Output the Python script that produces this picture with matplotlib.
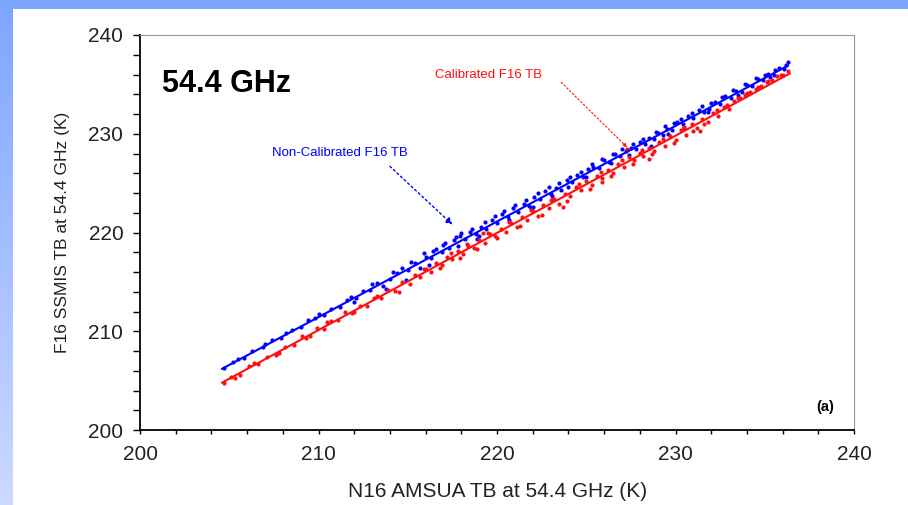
import numpy as np
import matplotlib
matplotlib.use('Agg')
import matplotlib.pyplot as plt
from matplotlib.ticker import MultipleLocator

plt.rcParams['font.family'] = ['Liberation Sans', 'DejaVu Sans']

# ── data ──
blue_x = [204.7, 205.2, 205.8, 206.3, 206.9, 207.4, 207.9, 208.5, 209.0, 209.4,
          209.8, 210.3, 210.7, 211.2, 211.6, 212.1, 212.5, 212.9, 213.3, 213.6,
          214.0, 214.4, 214.7, 215.0, 215.4, 215.7, 216.0, 216.3, 216.6, 216.9,
          217.1, 217.3, 217.6, 217.9, 218.2, 218.5, 218.8, 219.1, 219.4, 219.7,
          220.0, 220.3, 220.6, 220.9, 221.2, 221.5, 221.8, 222.1, 222.4, 222.7,
          223.0, 223.3, 223.6, 223.9, 224.2, 224.5, 224.8, 225.1, 225.4, 225.7,
          226.0, 226.3, 226.6, 226.9, 227.2, 227.5, 227.8, 228.0, 228.3, 228.5,
          228.8, 229.0, 229.3, 229.5, 229.8, 230.1, 230.4, 230.7, 231.0, 231.3,
          231.6, 231.9, 232.2, 232.5, 232.8, 233.1, 233.4, 233.7, 234.0, 234.3,
          234.6, 234.9, 235.2, 235.5, 235.8, 236.1, 236.3,
          213.8, 214.9, 216.2, 219.0, 222.0, 224.0, 228.6, 230.5, 215.9, 226.4,
          205.5, 207.0, 208.2, 210.0, 211.8, 213.0, 214.2, 215.2, 216.4, 217.0,
          217.7, 218.0, 218.6, 219.3, 219.9, 220.4, 221.0, 221.6, 222.3, 222.9,
          223.5, 224.1, 224.7, 225.3, 225.9, 226.5, 227.0, 227.6, 228.2, 228.9,
          229.4, 229.9, 230.3, 230.9, 231.5, 232.0, 232.6, 233.2, 233.9, 234.5,
          235.0, 235.6, 236.2,
          212.0, 217.8, 220.7, 223.1, 225.0, 227.4, 229.6, 231.8, 233.5, 235.3,
          218.9, 221.9]
blue_y = [206.3, 206.9, 207.3, 208.0, 208.4, 209.1, 209.3, 210.1, 210.4, 211.1,
          211.3, 211.6, 212.3, 212.5, 213.2, 213.4, 214.1, 214.2, 214.9, 214.6,
          215.3, 215.9, 216.4, 216.2, 216.9, 216.4, 217.5, 217.4, 218.3, 218.0,
          218.9, 218.4, 219.2, 219.6, 219.3, 220.1, 219.8, 220.6, 220.4, 221.3,
          221.0, 221.9, 221.6, 222.5, 222.1, 222.9, 222.7, 223.6, 223.4, 224.2,
          223.9, 224.5, 224.3, 225.3, 225.1, 225.8, 225.6, 226.4, 226.6, 226.5,
          227.3, 227.1, 227.9, 227.7, 228.3, 228.6, 228.5, 229.2, 229.0, 229.6,
          229.5, 230.1, 229.9, 230.5, 230.4, 231.2, 231.0, 231.8, 231.6, 232.4,
          232.2, 232.5, 233.2, 233.0, 233.8, 233.6, 234.3, 234.2, 234.9, 234.8,
          235.5, 235.4, 236.1, 236.0, 236.7, 236.6, 237.3,
          214.3, 215.2, 216.7, 219.6, 222.6, 224.6, 228.8, 230.6, 217.9, 227.0,
          207.2, 208.7, 209.8, 211.7, 213.5, 214.8, 216.0, 217.0, 218.1, 218.7,
          219.5, 219.9, 220.4, 221.1, 221.7, 222.2, 222.8, 223.3, 224.0, 224.6,
          225.0, 225.6, 226.1, 226.9, 227.4, 228.0, 228.5, 229.0, 229.5, 230.2,
          230.8, 231.1, 231.5, 232.1, 232.8, 233.1, 233.7, 234.4, 235.0, 235.6,
          236.0, 236.5, 237.0,
          213.0, 218.6, 221.3, 223.7, 225.6, 227.8, 230.0, 232.2, 233.9, 235.7,
          219.3, 222.5]

red_x = [204.7, 205.1, 205.6, 206.1, 206.6, 207.1, 207.6, 208.1, 208.6, 209.1,
         209.5, 209.9, 210.3, 210.7, 211.1, 211.5, 211.9, 212.3, 212.7, 213.1,
         213.5, 213.9, 214.3, 214.7, 215.1, 215.4, 215.7, 216.0, 216.3, 216.6,
         216.9, 217.2, 217.5, 217.8, 218.1, 218.4, 218.7, 219.0, 219.3, 219.6,
         219.9, 220.2, 220.5, 220.8, 221.1, 221.4, 221.7, 222.0, 222.3, 222.6,
         222.9, 223.2, 223.5, 223.8, 224.1, 224.4, 224.7, 225.0, 225.3, 225.6,
         225.9, 226.2, 226.5, 226.8, 227.1, 227.4, 227.7, 228.0, 228.2, 228.5,
         228.8, 229.1, 229.4, 229.7, 230.0, 230.3, 230.6, 230.9, 231.2, 231.5,
         231.8, 232.1, 232.4, 232.7, 233.0, 233.3, 233.6, 233.9, 234.2, 234.5,
         234.8, 235.1, 235.4, 235.7, 236.0, 236.3,
         223.7, 231.4, 225.9, 219.2, 228.5, 214.5, 227.3,
         205.3, 206.4, 207.8, 209.3, 210.5, 212.0, 213.3, 215.9, 216.8, 217.4,
         217.9, 218.3, 218.9, 219.5, 220.0, 220.7, 221.3, 221.9, 222.5, 223.0,
         223.9, 224.6, 225.2, 225.8, 226.4, 227.0, 227.6, 228.1, 228.7, 229.3,
         229.9, 230.5, 231.0, 231.6, 232.3, 232.9, 233.5, 234.0, 234.6, 235.2,
         235.9]
red_y = [204.8, 205.4, 205.6, 206.5, 206.7, 207.4, 207.6, 208.4, 208.6, 209.5,
         209.5, 210.3, 210.2, 211.0, 211.1, 211.9, 211.8, 212.6, 212.6, 213.4,
         213.4, 214.2, 214.1, 215.0, 214.8, 215.7, 215.5, 216.3, 216.0, 216.9,
         216.7, 217.5, 217.3, 218.1, 217.8, 218.6, 218.4, 219.2, 218.9, 219.8,
         219.6, 220.4, 220.1, 221.0, 220.6, 221.6, 221.3, 222.2, 221.7, 222.8,
         222.5, 223.4, 222.9, 223.9, 223.7, 224.6, 224.3, 225.2, 224.8, 225.7,
         225.5, 226.3, 226.0, 226.9, 226.6, 227.6, 227.3, 228.1, 227.7, 228.6,
         228.3, 229.2, 228.8, 229.8, 229.4, 230.4, 229.9, 231.0, 230.6, 231.5,
         231.2, 232.1, 231.8, 232.7, 232.5, 233.3, 233.6, 233.9, 234.2, 234.5,
         234.8, 235.2, 235.4, 235.8, 236.0, 236.4,
         222.6, 230.3, 225.1, 219.9, 227.4, 214.0, 228.5,
         205.3, 206.8, 207.8, 209.3, 210.9, 211.9, 213.6, 216.3, 216.4, 217.9,
         217.4, 218.8, 218.3, 219.9, 219.4, 221.1, 220.7, 222.3, 221.8, 223.3,
         223.2, 224.9, 224.4, 226.1, 225.7, 227.3, 226.9, 228.4, 227.9, 229.5,
         229.1, 230.7, 230.3, 231.0, 232.4, 232.9, 233.6, 234.1, 234.7, 235.3,
         235.9]

# fitted lines (end points)
blue_fit_x = [204.6, 236.3]
blue_fit_y = [206.2, 236.9]
red_fit_x = [204.6, 236.4]
red_fit_y = [204.8, 236.1]

BLUE = '#0000ff'
RED = '#ff1010'

fig = plt.figure(figsize=(9.08, 5.05), dpi=100)
fig.patch.set_facecolor('white')

# ── slide frame: blue bar on top, gradient bar on left ──
bg = fig.add_axes([0, 0, 1, 1], zorder=-10)
bg.set_xlim(0, 908)
bg.set_ylim(505, 0)
bg.axis('off')
grad = np.linspace(0, 1, 256).reshape(-1, 1)
top_c = np.array([0.49, 0.65, 1.0])
bot_c = np.array([0.80, 0.85, 1.0])
img = top_c + grad[..., None] * (bot_c - top_c)
bg.imshow(img, extent=[0, 13, 505, 0], aspect='auto')
bg.add_patch(plt.Rectangle((0, 0), 908, 9, color=top_c, lw=0))

ax = fig.add_axes([140 / 908, 1 - 430 / 505, 714 / 908, 395 / 505])

ax.scatter(blue_x, blue_y, s=9, color=BLUE, linewidths=0, zorder=3)
ax.scatter(red_x, red_y, s=9, color=RED, linewidths=0, zorder=3)
ax.plot(blue_fit_x, blue_fit_y, color=BLUE, lw=1.5, zorder=4)
ax.plot(red_fit_x, red_fit_y, color=RED, lw=1.5, zorder=4)

ax.set_xlim(200, 240)
ax.set_ylim(200, 240)
ax.xaxis.set_major_locator(MultipleLocator(10))
ax.xaxis.set_minor_locator(MultipleLocator(2))
ax.yaxis.set_major_locator(MultipleLocator(10))
ax.yaxis.set_minor_locator(MultipleLocator(2))

ax.tick_params(axis='x', which='both', direction='out', length=3, width=1,
               labelsize=15, pad=8, colors='black')
ax.tick_params(axis='y', which='both', direction='out', length=5, width=1,
               labelsize=15, pad=7, colors='black')
for lab in ax.get_xticklabels() + ax.get_yticklabels():
    lab.set_color('#222222')

for s in ['left', 'bottom']:
    ax.spines[s].set_color('black')
    ax.spines[s].set_linewidth(1.3)
for s in ['top', 'right']:
    ax.spines[s].set_color('#999999')
    ax.spines[s].set_linewidth(0.8)

ax.set_xlabel('N16 AMSUA TB at 54.4 GHz (K)', fontsize=15, color='#222222')
ax.set_ylabel('F16 SSMIS TB at 54.4 GHz (K)', fontsize=12.5, color='#222222')
ax.xaxis.set_label_coords(0.501, -0.132)
ax.yaxis.set_label_coords(-0.098, 0.5)

ax.text(201.25, 235.0, '54.4 GHz', fontsize=22, fontweight='bold',
        ha='left', va='center')
ax.text(238.9, 202.3, '(a)', fontsize=10.5, fontweight='bold',
        ha='right', va='center')

ax.text(207.4, 228.1, 'Non-Calibrated F16 TB', fontsize=9.5, color=BLUE,
        ha='left', va='center')
ax.text(216.5, 236.0, 'Calibrated F16 TB', fontsize=9.5, color=RED,
        ha='left', va='center')
ax.annotate('', xy=(217.5, 220.8), xytext=(214.0, 226.7),
            arrowprops=dict(arrowstyle='-|>', color=BLUE, lw=1, ls=(0, (1.5, 2)),
                            mutation_scale=10, shrinkA=0, shrinkB=0))
ax.annotate('', xy=(227.3, 228.6), xytext=(223.6, 235.2),
            arrowprops=dict(arrowstyle='-|>', color=RED, lw=0.8, ls=(0, (1.5, 2)),
                            mutation_scale=6, shrinkA=0, shrinkB=0))

plt.savefig('out.png', dpi=100, facecolor='white')
plt.close()
